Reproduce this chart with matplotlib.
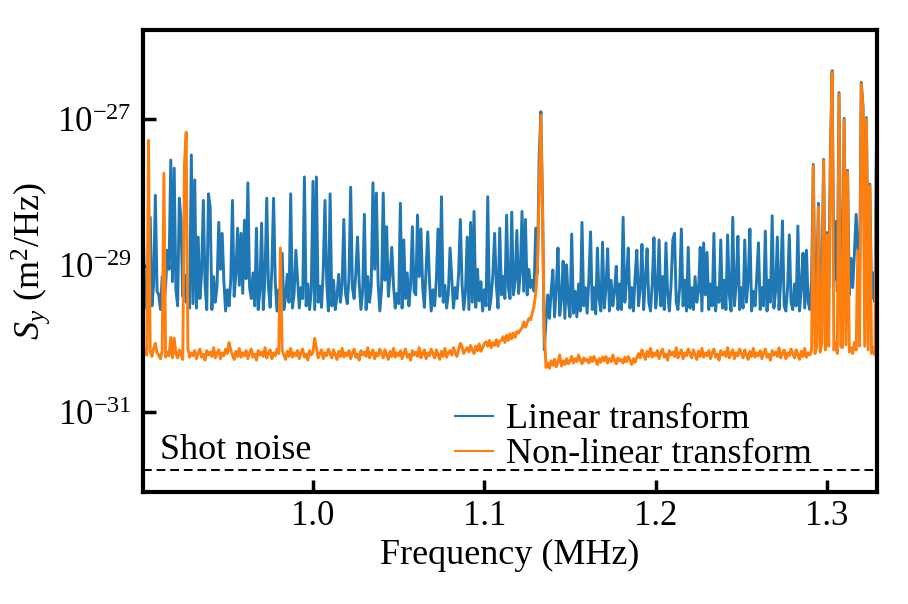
#!/usr/bin/env python
# coding: utf-8

import numpy as np
import matplotlib
matplotlib.use('Agg')
import matplotlib.pyplot as plt
from matplotlib.ticker import NullLocator

# frequency grid in MHz (one reading every 1 kHz)
freq_start = 0.900
freq_step = 0.001

# log10 of S_y (m^2/Hz)
linear_log10 = [
    -29.52, -28.56, -29.58, -29.30, -29.45, -28.34, -29.55, -29.25, -28.04, -29.35,
    -29.40, -29.60, -29.15, -29.50, -29.28, -28.79, -29.05, -27.56, -29.22, -27.67,
    -29.33, -29.55, -28.08, -28.38, -29.42, -29.12, -29.50, -29.27, -29.58, -27.49,
    -29.52, -27.83, -29.58, -28.61, -29.45, -29.10, -28.11, -29.25, -29.60, -28.02,
    -28.20, -29.60, -29.15, -29.50, -29.28, -28.41, -29.05, -28.56, -29.22, -29.62,
    -29.33, -29.55, -29.20, -28.11, -29.42, -29.12, -28.49, -29.27, -28.56, -29.38,
    -28.38, -29.18, -27.87, -29.30, -29.45, -29.10, -29.55, -28.49, -29.60, -29.35,
    -28.42, -29.60, -29.15, -28.08, -29.28, -29.57, -29.05, -28.08, -29.22, -29.62,
    -29.33, -29.55, -28.83, -29.60, -29.42, -29.12, -29.50, -28.02, -29.58, -29.38,
    -28.79, -29.18, -29.58, -29.30, -29.45, -27.79, -29.55, -29.25, -29.60, -29.35,
    -27.85, -29.60, -27.79, -29.50, -29.28, -29.57, -29.05, -28.11, -29.22, -29.62,
    -28.02, -29.55, -29.20, -29.60, -29.42, -29.12, -29.50, -29.27, -28.37, -29.38,
    -29.52, -29.18, -27.93, -29.30, -29.45, -29.10, -28.61, -29.25, -29.60, -29.35,
    -28.30, -29.60, -29.15, -29.50, -29.28, -27.87, -29.05, -28.01, -29.22, -29.62,
    -29.33, -28.01, -29.20, -28.47, -29.42, -29.12, -28.75, -29.27, -29.58, -29.38,
    -29.52, -28.15, -29.58, -28.65, -29.45, -29.10, -29.55, -29.25, -28.47, -29.35,
    -29.40, -28.31, -29.15, -28.50, -29.28, -29.57, -29.05, -28.54, -29.22, -29.62,
    -29.33, -29.55, -29.20, -28.50, -29.42, -28.06, -29.50, -29.27, -29.58, -29.38,
    -28.76, -29.18, -29.58, -29.30, -29.45, -29.10, -28.37, -29.25, -29.60, -29.35,
    -28.61, -29.60, -28.41, -29.50, -28.26, -29.57, -29.05, -29.48, -29.22, -29.62,
    -29.33, -29.55, -28.06, -29.60, -29.42, -29.12, -28.56, -29.27, -29.58, -28.49,
    -29.40, -29.15, -29.45, -28.31, -29.30, -29.45, -28.27, -29.40, -29.20, -28.52,
    -29.38, -29.10, -28.26, -29.35, -28.37, -29.40, -29.05, -29.30, -29.20, -29.35,
    -28.49, -29.10, -27.52, -26.90, -28.20, -30.15, -29.75, -29.40, -29.72, -29.35,
    -29.06, -29.70, -29.30, -28.76, -29.68, -29.45, -28.94, -29.72, -28.99, -29.50,
    -29.70, -28.57, -29.65, -29.35, -29.70, -29.25, -29.62, -28.41, -29.55, -29.30,
    -29.65, -29.20, -28.54, -29.60, -29.30, -29.66, -28.76, -29.45, -29.62, -28.68,
    -29.58, -29.30, -28.77, -29.62, -29.20, -29.55, -29.35, -29.01, -29.60, -29.25,
    -29.60, -28.34, -29.50, -29.20, -28.76, -29.58, -29.30, -29.62, -29.15, -28.79,
    -29.55, -29.30, -28.71, -29.60, -29.20, -28.77, -29.50, -29.62, -29.25, -28.62,
    -29.58, -29.35, -28.65, -29.55, -29.15, -29.60, -28.69, -29.40, -29.62, -29.25,
    -28.65, -28.56, -29.50, -29.60, -29.30, -28.50, -29.55, -29.20, -29.62, -28.75,
    -29.58, -29.30, -29.60, -29.15, -29.50, -29.35, -28.75, -29.62, -28.69, -29.40,
    -28.82, -29.60, -29.25, -29.55, -28.56, -29.62, -29.30, -29.50, -28.65, -29.58,
    -29.20, -29.60, -28.58, -29.40, -29.62, -28.34, -29.55, -29.25, -28.60, -29.60,
    -29.30, -29.58, -28.65, -29.50, -29.20, -28.50, -29.62, -29.35, -29.55, -29.15,
    -28.69, -29.60, -29.30, -29.55, -28.53, -29.62, -29.20, -29.50, -28.32, -29.58,
    -29.35, -28.61, -29.60, -29.20, -28.39, -29.55, -29.62, -29.30, -28.58, -29.50,
    -29.60, -29.25, -29.55, -28.46, -29.62, -29.30, -28.83, -29.58, -28.79, -29.50,
    -29.60, -29.20, -27.62, -29.50, -29.30, -28.15, -29.55, -29.25, -27.55, -29.45,
    -28.55, -29.30, -27.45, -26.34, -29.20, -28.40, -29.35, -26.64, -29.10, -29.45,
    -26.99, -29.20, -27.70, -29.40, -28.90, -29.30, -28.83, -28.30, -28.80, -29.25,
    -26.50, -26.83, -29.30, -26.98, -29.20, -27.89, -29.45, -29.10, -29.50, -26.97, -29.40,
]

nonlinear_log10 = [
    -30.20, -30.26, -30.15, -30.22, -27.29, -30.17, -30.24, -30.13, -30.06, -30.19,
    -30.22, -30.27, -30.16, -27.74, -30.25, -30.18, -30.23, -29.98, -30.26, -29.99,
    -30.20, -30.26, -30.15, -30.22, -30.28, -27.61, -27.18, -30.13, -30.25, -30.19,
    -30.23, -30.16, -30.27, -30.19, -30.14, -30.25, -30.21, -30.29, -30.16, -30.22,
    -30.18, -30.24, -30.12, -30.26, -30.20, -30.15, -30.27, -30.19, -30.23, -30.14,
    -30.20, -30.05, -30.15, -30.22, -30.28, -30.17, -30.24, -30.13, -30.25, -30.19,
    -30.23, -30.16, -30.27, -30.19, -30.14, -30.25, -30.21, -30.29, -30.16, -30.22,
    -30.18, -30.24, -30.12, -30.26, -30.20, -30.15, -30.27, -30.19, -30.23, -30.14,
    -30.20, -28.76, -30.15, -30.22, -30.28, -30.17, -30.24, -30.13, -30.25, -30.19,
    -30.23, -30.16, -30.27, -30.19, -30.14, -30.25, -30.21, -30.29, -30.16, -30.22,
    -30.18, -29.99, -30.12, -30.26, -30.20, -30.15, -30.27, -30.19, -30.23, -30.14,
    -30.20, -30.26, -30.15, -30.22, -30.28, -30.17, -30.24, -30.13, -30.25, -30.19,
    -30.23, -30.16, -30.27, -30.19, -30.14, -30.25, -30.21, -30.29, -30.16, -30.22,
    -30.18, -30.24, -30.12, -30.26, -30.20, -30.15, -30.27, -30.19, -30.23, -30.14,
    -30.20, -30.26, -30.15, -30.22, -30.28, -30.17, -30.24, -30.13, -30.25, -30.19,
    -30.23, -30.16, -30.27, -30.19, -30.14, -30.25, -30.21, -30.29, -30.16, -30.22,
    -30.18, -30.24, -30.12, -30.26, -30.20, -30.15, -30.27, -30.19, -30.23, -30.14,
    -30.20, -30.26, -30.15, -30.22, -30.28, -30.17, -30.24, -30.13, -30.25, -30.19,
    -30.16, -30.22, -30.12, -30.19, -30.24, -30.14, -30.06, -30.11, -30.20, -30.15,
    -30.12, -30.18, -30.09, -30.15, -30.20, -30.10, -30.16, -30.07, -30.17, -30.12,
    -30.06, -30.04, -30.10, -30.02, -30.12, -30.05, -30.09, -30.01, -30.10, -30.03,
    -30.02, -29.97, -30.05, -29.95, -30.02, -29.93, -30.00, -29.92, -29.98, -29.90,
    -29.92, -29.88, -29.85, -29.77, -29.84, -29.78, -29.72, -29.74, -29.65, -29.55,
    -29.38, -29.05, -28.00, -26.95, -28.30, -29.90, -30.39, -30.33, -30.40, -30.30,
    -30.36, -30.28, -30.38, -30.32, -30.22, -30.37, -30.30, -30.35, -30.27, -30.34,
    -30.30, -30.24, -30.33, -30.27, -30.31, -30.22, -30.29, -30.34, -30.26, -30.30,
    -30.28, -30.33, -30.25, -30.31, -30.24, -30.29, -30.35, -30.27, -30.32, -30.25,
    -30.30, -30.24, -30.33, -30.27, -30.31, -30.22, -30.29, -30.34, -30.26, -30.30,
    -30.28, -30.33, -30.25, -30.31, -30.24, -30.29, -30.35, -30.27, -30.32, -30.25,
    -30.20, -30.26, -30.15, -30.22, -30.28, -30.17, -30.24, -30.13, -30.25, -30.19,
    -30.23, -30.16, -30.27, -30.19, -30.14, -30.25, -30.21, -30.29, -30.16, -30.22,
    -30.18, -30.24, -30.12, -30.26, -30.20, -30.15, -30.27, -30.19, -30.23, -30.14,
    -30.20, -30.26, -30.15, -30.22, -30.28, -30.17, -30.24, -30.13, -30.25, -30.19,
    -30.23, -30.16, -30.27, -30.19, -30.14, -30.25, -30.21, -30.29, -30.16, -30.22,
    -30.18, -30.24, -30.12, -30.26, -30.20, -30.15, -30.27, -30.19, -30.23, -30.14,
    -30.20, -30.26, -30.15, -30.22, -30.28, -30.17, -30.24, -30.13, -30.25, -30.19,
    -30.23, -30.16, -30.27, -30.19, -30.14, -30.25, -30.21, -30.29, -30.16, -30.22,
    -30.18, -30.24, -30.12, -30.26, -30.20, -30.15, -30.27, -30.19, -30.23, -30.14,
    -30.20, -30.26, -30.15, -30.22, -30.28, -30.17, -30.24, -30.13, -30.25, -30.19,
    -30.22, -30.15, -27.64, -30.20, -30.10, -28.20, -30.18, -30.05, -27.57, -30.15,
    -28.58, -30.10, -27.55, -26.36, -30.15, -30.05, -30.20, -26.66, -30.10, -30.12,
    -27.01, -30.08, -27.72, -30.18, -30.12, -30.20, -30.05, -30.15, -28.80, -30.10,
    -26.52, -26.85, -30.10, -27.00, -30.15, -27.91, -30.20, -30.12, -30.22, -26.99, -30.25,
]

shot_noise = 1.6e-32
xticks = [1.0, 1.1, 1.2, 1.3]
yticks = [1e-31, 1e-29, 1e-27]

plt.rcParams['font.family'] = ['Liberation Serif', 'DejaVu Serif']
plt.rcParams['mathtext.fontset'] = 'custom'
plt.rcParams['mathtext.rm'] = 'Liberation Serif'
plt.rcParams['mathtext.it'] = 'Liberation Serif:italic'
plt.rcParams['mathtext.bf'] = 'Liberation Serif:bold'

freq = freq_start + freq_step * np.arange(len(linear_log10))
linear = 10.0 ** np.array(linear_log10)
nonlinear = 10.0 ** np.array(nonlinear_log10)

fig = plt.figure(figsize=(9.08, 6.04), dpi=100)
ax = fig.add_axes([0.1575, 0.1854, 0.8084, 0.7649])

l1, = ax.plot(freq, linear, color='#1f77b4', lw=2.1, label='Linear transform')
l2, = ax.plot(freq, nonlinear, color='#ff7f0e', lw=2.1, label='Non-linear transform')
ax.axhline(shot_noise, color='black', ls='--', lw=1.4, dashes=(4.5, 2.5))
ax.text(0.9107, 10 ** -31.64, 'Shot noise', fontsize=26, va='baseline')

ax.set_yscale('log')
ax.set_xlim(0.9008, 1.3292)
ax.set_ylim(10 ** -32.09, 10 ** -25.785)
ax.set_xticks(xticks)
ax.set_xticklabels(['%.1f' % t for t in xticks])
ax.set_yticks(yticks)
ax.yaxis.set_minor_locator(NullLocator())
ax.xaxis.set_minor_locator(NullLocator())

ax.tick_params(direction='in', length=9, width=2.5, labelsize=25)
ax.tick_params(axis='x', pad=6)
ax.tick_params(axis='y', pad=8)
for s in ax.spines.values():
    s.set_linewidth(3)

ax.set_xlabel('Frequency (MHz)', fontsize=26)
ax.set_ylabel(r'$S_y$ (m$^2$/Hz)', fontsize=26)

leg = ax.legend(loc='lower left', bbox_to_anchor=(0.425, 0.045), frameon=False,
                fontsize=26, handlelength=1.05, handletextpad=0.35,
                labelspacing=0.05, borderpad=0, borderaxespad=0)
for h in leg.get_lines():
    h.set_linewidth(1.5)

fig.savefig('out.png', dpi=100)
